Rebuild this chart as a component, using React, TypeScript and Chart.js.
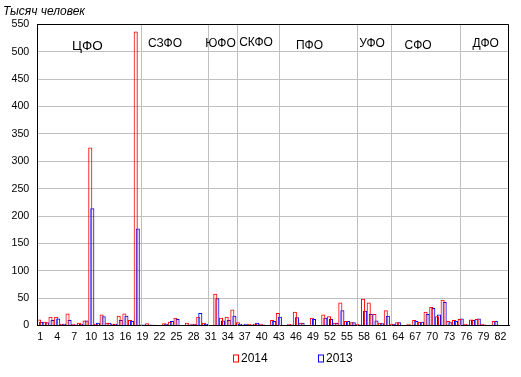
import React, { useEffect, useRef } from 'react';
import { Chart, registerables } from 'chart.js';

Chart.register(...registerables);

const regions = [
  '1', '2', '3', '4', '5', '6', '7', '8', '9', '10',
  '11', '12', '13', '14', '15', '16', '17', '18', '19', '20',
  '21', '22', '23', '24', '25', '26', '27', '28', '29', '30',
  '31', '32', '33', '34', '35', '36', '37', '38', '39', '40',
  '41', '42', '43', '44', '45', '46', '47', '48', '49', '50',
  '51', '52', '53', '54', '55', '56', '57', '58', '59', '60',
  '61', '62', '63', '64', '65', '66', '67', '68', '69', '70',
  '71', '72', '73', '74', '75', '76', '77', '78', '79', '80',
  '81', '82', '83',
];

const values2014 = [
  11, 7, 16, 16, 3, 22, 3, 5, 9, 325,
  3, 20, 5, 3, 18, 22, 10, 537, 2, 4,
  2, 1, 4, 7, 14, 1, 5, 3, 16, 5,
  1, 58, 14, 16, 29, 6, 2, 3, 3, 3,
  1, 10, 23, 1, 3, 25, 5, 1, 14, 1,
  20, 17, 5, 42, 8, 6, 3, 49, 42, 21,
  5, 28, 3, 6, 1, 3, 10, 7, 25, 34,
  17, 47, 8, 10, 12, 3, 11, 12, 3, 1,
  8, 1, 1,
];

const values2013 = [
  7, 6, 10, 13, 3, 10, 2, 3, 9, 214,
  5, 17, 5, 3, 10, 18, 8, 177, 2, 2,
  1, 1, 3, 8, 12, 1, 2, 3, 23, 3,
  1, 50, 9, 10, 18, 3, 3, 2, 5, 2,
  1, 8, 16, 1, 2, 15, 5, 1, 12, 1,
  14, 12, 5, 28, 8, 6, 2, 27, 21, 9,
  4, 18, 3, 6, 1, 1, 8, 7, 21, 32,
  20, 43, 6, 8, 13, 2, 10, 13, 2, 1,
  8, 1, 1,
];

const seriesLabels = ['2014', '2013'];
const seriesColors = ['#ff0000', '#0000ff'];

const yTicksMin = 0;
const yTicksMax = 550;
const yTicksStep = 50;

const districtNames = ['ЦФО', 'СЗФО', 'ЮФО', 'СКФО', 'ПФО', 'УФО', 'СФО', 'ДФО'];
const districtLabelX = [8.33, 21.97, 31.74, 37.98, 47.4, 58.4, 66.5, 78.4];
const districtLabelY = [510, 514, 514, 517, 512, 515, 511, 515];
const districtFontSize = [13.5, 12, 12, 12, 12, 12, 12, 12];
const dividerAfter = [18.3, 30.0, 35.2, 42.6, 56.2, 62.2, 74.4];

const FONT = '"Liberation Sans", Arial, sans-serif';
const GRID = '#c0c0c0';

const decorPlugin = {
  id: 'decor',
  beforeDatasetsDraw(chart: any) {
    const { ctx, chartArea } = chart;
    const xs = chart.scales.x;
    ctx.save();
    ctx.strokeStyle = GRID;
    ctx.lineWidth = 1;
    dividerAfter.forEach((b) => {
      const px = Math.round(xs.getPixelForValue(b - 0.5)) + 0.5;
      ctx.beginPath();
      ctx.moveTo(px, chartArea.top);
      ctx.lineTo(px, chartArea.bottom);
      ctx.stroke();
    });
    ctx.restore();
  },
  afterDraw(chart: any) {
    const { ctx, chartArea } = chart;
    const xs = chart.scales.x;
    const ys = chart.scales.y;
    ctx.save();
    // frame
    ctx.strokeStyle = '#000';
    ctx.lineWidth = 1;
    ctx.beginPath();
    const l = Math.round(chartArea.left) + 0.5;
    const r = Math.round(chartArea.right) - 0.5;
    const t = Math.round(chartArea.top) + 0.5;
    const b = Math.round(chartArea.bottom) - 0.5;
    ctx.moveTo(l, b);
    ctx.lineTo(l, t);
    ctx.lineTo(r, t);
    ctx.lineTo(r, b);
    ctx.stroke();
    // district labels
    ctx.fillStyle = '#000';
    ctx.textAlign = 'center';
    ctx.textBaseline = 'middle';
    districtNames.forEach((n, i) => {
      ctx.font = `${districtFontSize[i]}px ${FONT}`;
      ctx.fillText(n, xs.getPixelForValue(districtLabelX[i]), ys.getPixelForValue(districtLabelY[i]));
    });
    // legend
    const legendX = [233, 318];
    const ly = 358.5;
    ctx.font = `12px ${FONT}`;
    ctx.textAlign = 'left';
    seriesLabels.forEach((s, i) => {
      const x = legendX[i];
      ctx.fillStyle = '#fff';
      ctx.fillRect(x, ly - 4, 6, 8);
      ctx.strokeStyle = seriesColors[i];
      ctx.lineWidth = 1;
      ctx.strokeRect(x + 0.5, ly - 4 + 0.5, 5, 7);
      ctx.fillStyle = '#000';
      ctx.fillText(s, x + 8, ly);
    });
    ctx.restore();
  },
};

export default function App() {
  const ref = useRef<HTMLCanvasElement | null>(null);

  useEffect(() => {
    document.body.style.margin = '0';
    const canvas = ref.current;
    if (!canvas) return;
    const chart = new Chart(canvas, {
      type: 'bar',
      data: {
        labels: regions,
        datasets: [
          {
            label: seriesLabels[0],
            data: values2014,
            borderColor: seriesColors[0],
            backgroundColor: 'rgba(255,255,255,0)',
            borderWidth: 1,
            categoryPercentage: 0.72,
            barPercentage: 2.0,
          },
          {
            label: seriesLabels[1],
            data: values2013,
            borderColor: seriesColors[1],
            backgroundColor: 'rgba(255,255,255,0)',
            borderWidth: 1,
            categoryPercentage: 0.72,
            barPercentage: 2.0,
          },
        ],
      },
      options: {
        animation: false,
        responsive: false,
        devicePixelRatio: 1,
        layout: { padding: { left: 3, right: 12, top: 0, bottom: 29.5 } },
        plugins: {
          legend: { display: false },
          tooltip: { enabled: false },
          title: {
            display: true,
            text: 'Тысяч человек',
            align: 'start',
            color: '#000',
            font: { family: FONT, size: 12, style: 'italic', weight: 'normal' },
            padding: { top: 4, bottom: 6 },
          },
        },
        scales: {
          x: {
            grid: { display: false, drawTicks: false },
            border: { display: true, color: '#000', width: 1 },
            ticks: {
              autoSkip: false,
              maxRotation: 0,
              minRotation: 0,
              padding: 5,
              color: '#000',
              font: { family: FONT, size: 10.67 },
              callback: (_v: any, i: number) => (i % 3 === 0 ? regions[i] : ''),
            },
            afterFit: (s: any) => {
              s.height = 22;
            },
          },
          y: {
            min: yTicksMin,
            max: yTicksMax,
            grid: { color: GRID, drawTicks: false, lineWidth: 1 },
            border: { display: true, color: '#000', width: 1 },
            ticks: {
              stepSize: yTicksStep,
              padding: 8,
              color: '#000',
              font: { family: FONT, size: 10.67 },
            },
            afterFit: (s: any) => {
              s.width = 34.3;
            },
          },
        },
      },
      plugins: [decorPlugin],
    });
    return () => chart.destroy();
  }, []);

  return (
    <div style={{ width: 521, height: 377 }}>
      <canvas ref={ref} width={521} height={377} style={{ display: 'block' }} />
    </div>
  );
}
